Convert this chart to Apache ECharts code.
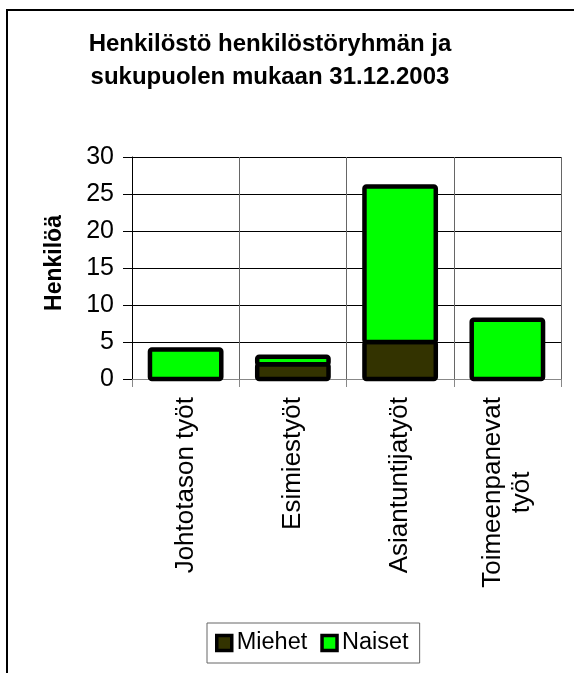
<!DOCTYPE html>
<html lang="fi">
<head>
    <meta charset="UTF-8">
    <title>Henkilöstö</title>
    <script src="https://cdn.jsdelivr.net/npm/echarts@6/dist/echarts.min.js"></script>
    <style>
        html, body { margin: 0; padding: 0; background: #fff; }
    </style>
</head>
<body>
<div id="chart" style="width: 574px; height: 673px;"></div>
<script>
    // tiedot
    var ryhmat = ['Johtotason työt', 'Esimiestyöt', 'Asiantuntijatyöt', 'Toimeenpanevat\ntyöt'];
    var miehet = [0, 2, 5, 0];
    var naiset = [4, 1, 21, 8];
    var yTicks = [0, 5, 10, 15, 20, 25, 30];

    var font = 'Liberation Sans, Arial, sans-serif';
    var myChart = echarts.init(document.getElementById('chart'));

    // pinotut palkit: [kategoria, alku, arvo]
    var miehetData = miehet.map(function (v, i) { return [i, 0, v]; });
    var naisetData = naiset.map(function (v, i) { return [i, miehet[i], v]; });

    // palkki, jonka reunaviiva on keskitetty reunalle (kuten Excelissä)
    function palkki(color) {
        return function (params, api) {
            var i = api.value(0), alku = api.value(1), arvo = api.value(2);
            if (!arvo) return null;
            var p0 = api.coord([i, alku]);
            var p1 = api.coord([i, alku + arvo]);
            var w = api.size([1, 0])[0] * 0.665;
            return {
                type: 'rect',
                shape: { x: p0[0] - w / 2, y: p1[1], width: w, height: p0[1] - p1[1], r: 2 },
                style: { fill: color, stroke: '#000', lineWidth: 4.5 }
            };
        };
    }

    myChart.setOption({
        backgroundColor: '#ffffff',
        animation: false,
        textStyle: { fontFamily: font },
        title: {
            text: 'Henkilöstö henkilöstöryhmän ja\nsukupuolen mukaan 31.12.2003',
            left: 265,
            top: 23,
            textAlign: 'center',
            textStyle: {
                fontFamily: font,
                fontSize: 24,
                fontWeight: 'bold',
                color: '#000',
                lineHeight: 33
            }
        },
        graphic: [{
            type: 'rect',
            shape: { x: 7, y: 10, width: 620, height: 700 },
            style: { fill: 'none', stroke: '#000', lineWidth: 2 },
            silent: true
        }],
        legend: {
            left: 207,
            top: 623,
            data: ['Miehet', 'Naiset'],
            icon: 'rect',
            itemWidth: 15,
            itemHeight: 15,
            itemGap: 13,
            padding: [8, 11, 8, 8],
            borderColor: '#666',
            borderWidth: 1,
            itemStyle: { borderColor: '#000', borderWidth: 3.5 },
            textStyle: { fontFamily: font, fontSize: 23.5, color: '#000' }
        },
        grid: {
            left: 132,
            top: 157,
            right: 13,
            bottom: 294,
            containLabel: false
        },
        xAxis: {
            type: 'category',
            data: ryhmat,
            axisLine: { lineStyle: { color: '#888', width: 1 } },
            axisTick: { show: true, length: 8, lineStyle: { color: '#888' } },
            splitLine: { show: true, lineStyle: { color: '#666', width: 1 } },
            axisLabel: {
                rotate: 90,
                margin: 18,
                fontFamily: font,
                fontSize: 26,
                color: '#000',
                lineHeight: 29,
                interval: 0,
                formatter: function (v) {
                    return v.split('\n').map(function (r) { return '{c|' + r + '}'; }).join('\n');
                },
                rich: {
                    c: { align: 'center', fontFamily: font, fontSize: 26, lineHeight: 29, color: '#000' }
                }
            }
        },
        yAxis: {
            type: 'value',
            min: yTicks[0],
            max: yTicks[yTicks.length - 1],
            interval: 5,
            name: 'Henkilöä',
            nameLocation: 'middle',
            nameGap: 66,
            nameTextStyle: { fontFamily: font, fontSize: 23, fontWeight: 'bold', color: '#000', padding: [0, 0, 0, 10] },
            axisLine: { show: true, lineStyle: { color: '#000', width: 1 } },
            axisTick: { show: true, length: 9, lineStyle: { color: '#000' } },
            splitLine: { show: true, lineStyle: { color: '#000', width: 1 } },
            axisLabel: { margin: 18, fontFamily: font, fontSize: 25, color: '#000' }
        },
        series: [{
            name: 'Miehet',
            type: 'custom',
            renderItem: palkki('#333300'),
            itemStyle: { color: '#333300' },
            encode: { x: 0, y: 2 },
            data: miehetData
        }, {
            name: 'Naiset',
            type: 'custom',
            renderItem: palkki('#00ff00'),
            itemStyle: { color: '#00ff00' },
            encode: { x: 0, y: 2 },
            data: naisetData
        }]
    });
</script>
</body>
</html>
